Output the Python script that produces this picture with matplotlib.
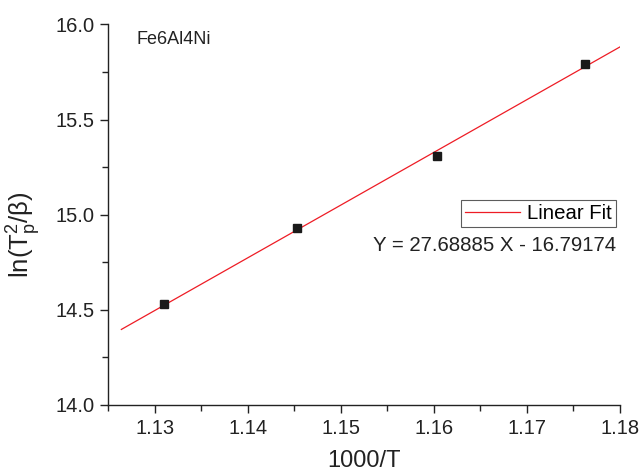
import numpy as np
import matplotlib.pyplot as plt
from matplotlib.ticker import MultipleLocator

plt.rcParams['font.family'] = ['Liberation Sans', 'DejaVu Sans']
plt.rcParams['mathtext.fontset'] = 'custom'
plt.rcParams['mathtext.rm'] = 'Liberation Sans'
plt.rcParams['mathtext.it'] = 'Liberation Sans'

# measured points
inv_t = [1.1310, 1.1453, 1.1603, 1.1762]
ln_t2_beta = [14.53, 14.93, 15.31, 15.79]

# linear fit result
slope = 27.68885
intercept = -16.79174
fit_range = [1.1264, 1.18]

sample = "Fe6Al4Ni"

fig = plt.figure(figsize=(6.41, 4.74), dpi=100)
ax = fig.add_axes([0.169, 0.1456, 0.798, 0.803])

xf = np.array(fit_range)
ax.plot(xf, slope * xf + intercept, color='#ee1c25', lw=0.9, label='Linear Fit')
ax.plot(inv_t, ln_t2_beta, 's', color='#1a1a1a', ms=6, ls='none')

ax.set_xlim(1.125, 1.18)
ax.set_ylim(14.0, 16.0)
ax.xaxis.set_major_locator(MultipleLocator(0.01))
ax.xaxis.set_minor_locator(MultipleLocator(0.005))
ax.yaxis.set_major_locator(MultipleLocator(0.5))
ax.yaxis.set_minor_locator(MultipleLocator(0.25))
ax.xaxis.set_major_formatter(plt.FuncFormatter(lambda v, p: f"{v:.2f}"))
ax.yaxis.set_major_formatter(plt.FuncFormatter(lambda v, p: f"{v:.1f}"))

for s in ['top', 'right']:
    ax.spines[s].set_visible(False)
for s in ['left', 'bottom']:
    ax.spines[s].set_linewidth(1.0)
    ax.spines[s].set_color('#222222')

ax.tick_params(which='both', direction='out', color='#222222', width=1.0,
               labelsize=14.5, labelcolor='#222222')
ax.tick_params(which='major', length=6, pad=4)
ax.tick_params(which='minor', length=4)

ax.set_xlabel('1000/T', fontsize=17, color='#222222', labelpad=9)
ax.set_ylabel(r'ln(T$_{\rm p}^{2}$/$\beta$)', fontsize=18.5, color='#222222')
ax.yaxis.set_label_coords(-0.128, 0.447)

ax.text(0.056, 0.96, sample, transform=ax.transAxes, fontsize=13,
        color='#222222', ha='left', va='center')
ax.text(0.992, 0.418, f"Y = {slope:.5f} X - {abs(intercept):.5f}",
        transform=ax.transAxes, fontsize=14.7, color='#222222',
        ha='right', va='center')

leg = ax.legend(loc='upper right', bbox_to_anchor=(0.992, 0.538),
                borderaxespad=0, fancybox=False, fontsize=14.7,
                handlelength=2.7, borderpad=0.2, handletextpad=0.35)
leg.get_frame().set_edgecolor('#333333')
leg.get_frame().set_linewidth(0.8)

fig.savefig('out.png', dpi=100)
